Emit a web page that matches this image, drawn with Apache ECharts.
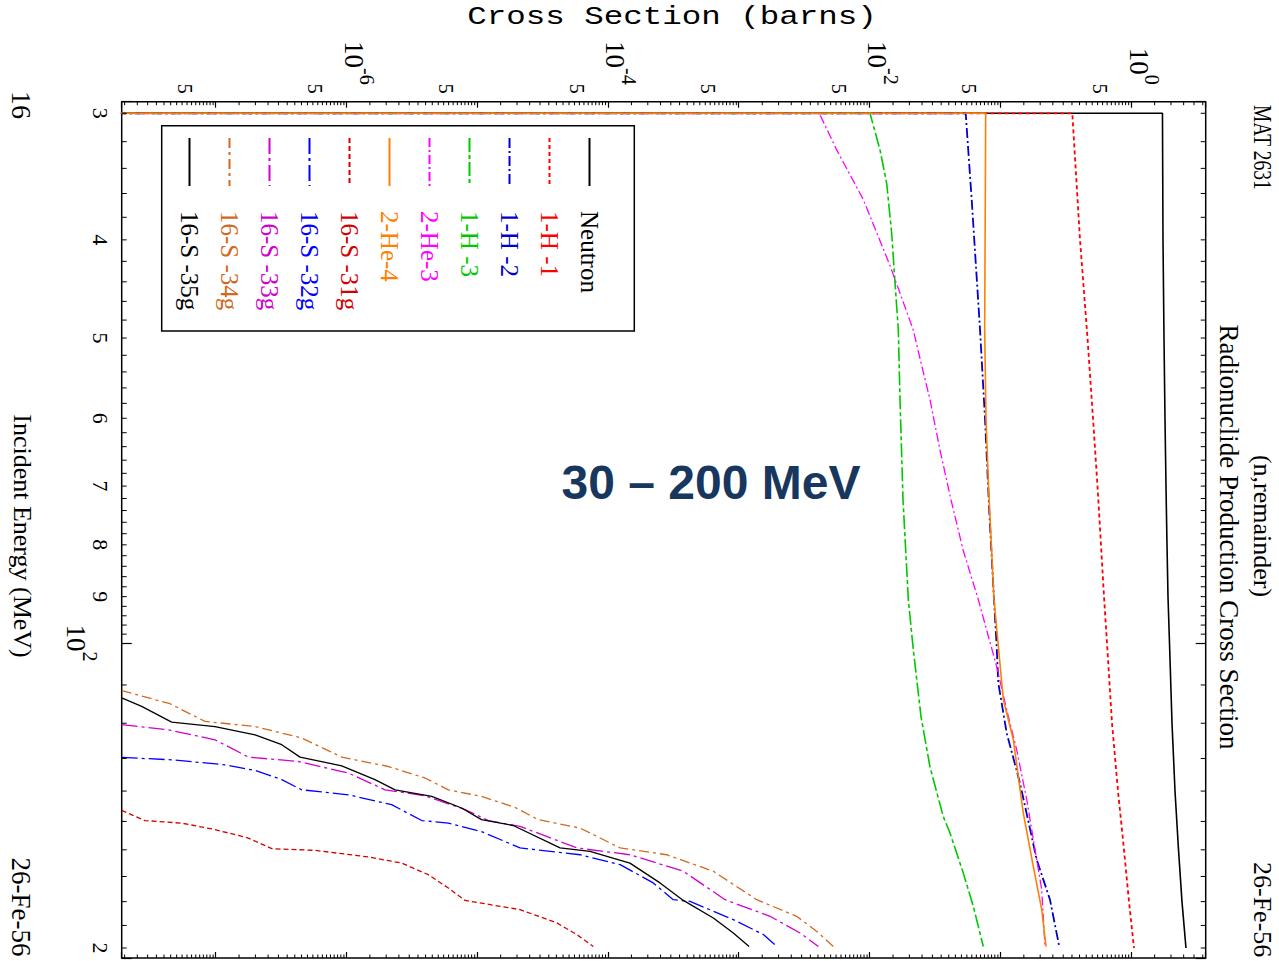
<!DOCTYPE html>
<html>
<head>
<meta charset="utf-8">
<title>Radionuclide Production Cross Section (n,remainder)</title>
<script src="https://cdn.jsdelivr.net/npm/echarts@6/dist/echarts.min.js"></script>
<style>
  html, body { margin: 0; padding: 0; background: #ffffff; }
  body { width: 1279px; height: 961px; overflow: hidden; position: relative; }
  /* The plot is laid out with energy along x and cross section along y,
     then turned a quarter turn clockwise as a whole sheet. */
  #sheet { position: absolute; left: 0; top: 0; width: 961px; height: 1279px;
           transform-origin: 0 0; transform: translate(1279px, 0) rotate(90deg); }
  #chart { width: 961px; height: 1279px; }
</style>
</head>
<body>
<div id="sheet"><div id="chart"></div></div>
<script>
// ---- axis ranges ----
const ENERGY_MIN = 29.22, ENERGY_MAX = 204.6;      // MeV
const SIGMA_MIN = 1.9e-8, SIGMA_MAX = 3.686;       // barns
const SWITCH_ON_FLOOR = 1e-9;                      // below the plotted range: curves switch on at 30 MeV

// ---- production cross sections, [energy (MeV), cross section (b)] ----
const neutron = [[30,1.722],[40,1.738],[50,1.769],[60,1.800],[70,1.832],[80,1.865],[90,1.898],[100,1.949],[120,2.037],[140,2.147],[160,2.284],[180,2.428],[200,2.605]];
const h1 = [[30,0.3521],[40,0.4033],[50,0.4601],[60,0.5069],[70,0.5486],[80,0.5834],[90,0.6152],[100,0.6484],[120,0.7084],[140,0.7870],[160,0.8747],[180,0.9552],[200,1.043]];
const h2 = [[30,0.05391],[36.5,0.05990],[49,0.06934],[60,0.07569],[75,0.0820],[90.6,0.08872],[100,0.0927],[109.5,0.09570],[122.7,0.1109],[137.5,0.1402],[163.6,0.1881],[179.2,0.2377],[199.4,0.2800]];
const h3 = [[30,0.0100],[32.6,0.01192],[35.2,0.01342],[39.4,0.01465],[44.1,0.01553],[49.1,0.01646],[57.5,0.01696],[72.2,0.01788],[90.6,0.01963],[101.5,0.02143],[118.2,0.02454],[132.5,0.02874],[148.4,0.03634],[154.0,0.04088],[168.7,0.05168],[181.9,0.06163],[199.3,0.07346]];
const he3 = [[30,0.004096],[32.6,0.005563],[36.5,0.008888],[42.4,0.01422],[49.1,0.02143],[51.4,0.02328],[57.5,0.02874],[64.5,0.03428],[72.2,0.04161],[80.9,0.05140],[90.6,0.06730],[105.5,0.09302],[116.4,0.1109],[127.5,0.1323],[142.7,0.1578],[159.9,0.1826],[175.2,0.2055],[199.4,0.2178]];
const he4 = [[30,0.07664],[49,0.07529],[60,0.07705],[70,0.08054],[90.6,0.08872],[113.7,0.1045],[124.5,0.1246],[147.2,0.1486],[166.1,0.1772],[183.3,0.2055],[199.4,0.2217]];
const s31 = [[146.3,1.90e-8],[149.7,2.86e-8],[150.6,5.47e-8],[152.8,9.82e-8],[155.8,1.77e-7],[159.6,2.67e-7],[160.2,5.71e-7],[162.6,1.46e-6],[164.9,2.63e-6],[169.3,4.20e-6],[174.5,5.97e-6],[179.5,8.01e-6],[183.3,2.11e-5],[188.9,4.03e-5],[194.0,5.73e-5],[199.3,7.67e-5]];
const s32 = [[129.7,1.90e-8],[130.4,4.58e-8],[131.9,1.17e-7],[133.6,1.99e-7],[136.4,3.18e-7],[139.6,4.52e-7],[141.2,1.03e-6],[144.4,2.20e-6],[149.7,3.74e-6],[150.6,5.97e-6],[153.5,1.07e-5],[159.3,2.11e-5],[161.8,6.07e-5],[165.5,1.23e-4],[172.5,2.20e-4],[179.2,3.13e-4],[179.9,4.21e-4],[187.5,9.01e-4],[194.0,1.53e-3],[199.3,1.94e-3]];
const s33 = [[120.4,1.90e-8],[121.8,4.32e-8],[124.6,9.82e-8],[129.6,1.77e-7],[130.9,4.26e-7],[134.4,1.03e-6],[139.6,1.96e-6],[141.5,3.96e-6],[146.0,8.01e-6],[149.7,1.21e-5],[151.7,2.11e-5],[159.3,5.73e-5],[161.8,1.46e-4],[168.0,3.74e-4],[179.2,7.79e-4],[186.1,1.72e-3],[193.3,2.92e-3],[199.3,4.03e-3]];
const s34 = [[111.4,1.90e-8],[114.8,4.45e-8],[119.5,8.24e-8],[120.9,1.99e-7],[124.1,4.52e-7],[129.6,9.14e-7],[132.4,2.08e-6],[135.9,3.96e-6],[139.6,5.97e-6],[141.7,1.07e-5],[145.3,1.93e-5],[149.4,2.91e-5],[152.3,6.07e-5],[159.3,1.23e-4],[161.8,2.79e-4],[168.0,6.34e-4],[179.2,1.36e-3],[186.1,2.75e-3],[192.6,3.92e-3],[199.3,5.24e-3]];
const s35 = [[113.3,1.90e-8],[115.5,2.70e-8],[119.7,4.58e-8],[120.9,9.82e-8],[123.2,1.99e-7],[126.0,3.18e-7],[129.6,4.39e-7],[132.2,9.14e-7],[136.4,1.64e-6],[139.6,2.34e-6],[141.7,4.46e-6],[145.5,7.55e-6],[149.4,1.07e-5],[151.4,1.87e-5],[159.3,4.27e-5],[160.6,7.23e-5],[164.9,1.46e-4],[172.5,2.48e-4],[179.5,3.74e-4],[186.8,6.34e-4],[193.3,9.01e-4],[199.3,1.19e-3]];

// ---- legend names, in legend order ----
const productNames = ['Neutron', '1-H -1', '1-H -2', '1-H -3', '2-He-3', '2-He-4',
                      '16-S -31g', '16-S -32g', '16-S -33g', '16-S -34g', '16-S -35g'];
const productData = [neutron, h1, h2, h3, he3, he4, s31, s32, s33, s34, s35];
const switchesOnAt30 = [true, true, true, true, true, true, false, false, false, false, false];

// ---- line styles ----
const lineColors = ['#000000', '#ff0000', '#0000cc', '#00c800', '#ff00ff', '#ff8000',
                    '#d40000', '#0000ff', '#d000d0', '#d2691e', '#000000'];
const lineDashes = ['solid', [4, 3], [10, 3, 2, 3], [14, 3, 4, 3], [9, 3, 2, 3], 'solid',
                    [5, 3], [16, 4, 3, 4], [16, 4, 3, 4], [10, 4, 3, 4], 'solid'];
const lineWidths = [1.6, 1.8, 1.8, 1.6, 1.3, 1.6, 1.3, 1.3, 1.3, 1.3, 1.3];

// ---- tick marks and tick labels ----
const sigmaLabelExponents = [-6, -4, -2, 0];               // decades carrying a 10^n label
const sigmaDecades = [-8, -7, -6, -5, -4, -3, -2, -1, 0];
const sigmaMantissas = [1.5, 2, 2.5, 3, 3.5, 4, 4.5, 5, 5.5, 6, 6.5, 7, 7.5, 8, 8.5, 9, 9.5];
const sigmaTickLabels = [[5e-8, '5'], [5e-7, '5'], [5e-6, '5'], [5e-5, '5'],
                         [5e-4, '5'], [5e-3, '5'], [5e-2, '5'], [5e-1, '5']];
const energyLabelExponents = [2];
const energyMinorTicks = [30, 32, 34, 36, 38, 40, 42, 44, 46, 48, 50, 52, 54, 56, 58, 60,
                          62, 64, 66, 68, 70, 72, 74, 76, 78, 80, 82, 84, 86, 88, 90,
                          92, 94, 96, 98, 110, 120, 130, 140, 150, 160, 170, 180, 190, 200];
const energyTickLabels = [[30, '3'], [40, '4'], [50, '5'], [60, '6'], [70, '7'],
                          [80, '8'], [90, '9'], [200, '2']];

const SERIF = "'Liberation Serif', 'Times New Roman', serif";
const MONO = "'Liberation Mono', 'Courier New', monospace";
const SANS = "'Liberation Sans', Arial, sans-serif";

const sigmaMinorTicks = [];
sigmaDecades.forEach(d => sigmaMantissas.forEach(m => {
  const v = m * Math.pow(10, d);
  if (v > SIGMA_MIN && v < SIGMA_MAX) sigmaMinorTicks.push(v);
}));

function decadeFormatter(allowed) {
  return function (v) {
    const e = Math.log10(v), r = Math.round(e);
    if (Math.abs(e - r) > 1e-6 || allowed.indexOf(r) < 0) return '';
    return '{b|10}{s|' + r + '}';
  };
}
const decadeRich = {
  b: { fontFamily: SERIF, fontSize: 27, color: '#000', padding: [10, 0, 0, 0] },
  s: { fontFamily: SERIF, fontSize: 20, color: '#000', verticalAlign: 'top' }
};

const lineSeries = productNames.map((name, i) => {
  const pts = productData[i];
  const data = switchesOnAt30[i] ? [[pts[0][0], SWITCH_ON_FLOOR]].concat(pts) : pts;
  return {
    type: 'line', name: name, data: data,
    symbol: 'none', showSymbol: false, clip: true, silent: true, z: 3,
    lineStyle: { color: lineColors[i], width: lineWidths[i], type: lineDashes[i] },
    itemStyle: { color: lineColors[i] },
    emphasis: { disabled: true }
  };
});

const tickStroke = { stroke: '#000', lineWidth: 1 };

const decorSeries = [
  { // minor ticks on the cross-section axis and its mirror
    type: 'custom', name: 'sigma-ticks', silent: true, clip: false, z: 4,
    data: sigmaMinorTicks.map(v => [ENERGY_MIN, v]),
    renderItem: (params, api) => {
      const v = api.value(1);
      const a = api.coord([ENERGY_MIN, v]), b = api.coord([ENERGY_MAX, v]);
      return { type: 'group', children: [
        { type: 'line', shape: { x1: a[0], y1: a[1], x2: a[0] + 3.5, y2: a[1] }, style: tickStroke },
        { type: 'line', shape: { x1: b[0], y1: b[1], x2: b[0] - 3.5, y2: b[1] }, style: tickStroke }
      ] };
    }
  },
  { // minor ticks on the energy axis and its mirror
    type: 'custom', name: 'energy-ticks', silent: true, clip: false, z: 4,
    data: energyMinorTicks.map(e => [e, SIGMA_MIN]),
    renderItem: (params, api) => {
      const e = api.value(0);
      const a = api.coord([e, SIGMA_MIN]), b = api.coord([e, SIGMA_MAX]);
      return { type: 'group', children: [
        { type: 'line', shape: { x1: a[0], y1: a[1], x2: a[0], y2: a[1] - 5 }, style: tickStroke },
        { type: 'line', shape: { x1: b[0], y1: b[1], x2: b[0], y2: b[1] + 5 }, style: tickStroke }
      ] };
    }
  },
  { // "5" labels between the decades
    type: 'custom', name: 'sigma-labels', silent: true, clip: false, z: 4,
    data: sigmaTickLabels.map(t => [ENERGY_MIN, t[0]]),
    renderItem: (params, api) => {
      const a = api.coord([ENERGY_MIN, api.value(1)]);
      return { type: 'text', x: a[0] - 13, y: a[1] - 8,
        style: { text: sigmaTickLabels[params.dataIndex][1], fill: '#000',
                 fontFamily: SERIF, fontSize: 20, align: 'center', verticalAlign: 'middle' } };
    }
  },
  { // energy mantissa labels
    type: 'custom', name: 'energy-labels', silent: true, clip: false, z: 4,
    data: energyTickLabels.map(t => [t[0], SIGMA_MIN]),
    renderItem: (params, api) => {
      const a = api.coord([api.value(0), SIGMA_MIN]);
      return { type: 'text', x: a[0], y: a[1] + 21,
        style: { text: energyTickLabels[params.dataIndex][1], fill: '#000',
                 fontFamily: SERIF, fontSize: 22, align: 'center', verticalAlign: 'middle' } };
    }
  }
];

const chart = echarts.init(document.getElementById('chart'), null,
                           { renderer: 'svg', width: 961, height: 1279 });

chart.setOption({
  animation: false,
  backgroundColor: '#ffffff',
  grid: { left: 101.7, right: 3, top: 73.3, bottom: 121.7, show: true,
          borderColor: '#000', borderWidth: 1.5, backgroundColor: 'transparent',
          outerBoundsMode: 'none', containLabel: false },
  xAxis: [
    { type: 'log', min: ENERGY_MIN, max: ENERGY_MAX, position: 'bottom', splitNumber: 5,
      axisLine: { show: false }, splitLine: { show: false },
      axisTick: { show: true, inside: true, length: 10, lineStyle: { color: '#000', width: 1.2 } },
      axisLabel: { show: true, margin: 22, formatter: decadeFormatter(energyLabelExponents), rich: decadeRich } },
    { type: 'log', min: ENERGY_MIN, max: ENERGY_MAX, position: 'top', splitNumber: 5,
      axisLine: { show: false }, splitLine: { show: false }, axisLabel: { show: false },
      axisTick: { show: true, inside: true, length: 10, lineStyle: { color: '#000', width: 1.2 } } }
  ],
  yAxis: [
    { type: 'log', min: SIGMA_MIN, max: SIGMA_MAX, position: 'left', splitNumber: 10,
      axisLine: { show: false }, splitLine: { show: false },
      axisTick: { show: true, inside: true, length: 6, lineStyle: { color: '#000', width: 1.2 } },
      axisLabel: { show: true, margin: 17, padding: [0, 0, 24, 0],
                   formatter: decadeFormatter(sigmaLabelExponents), rich: decadeRich } },
    { type: 'log', min: SIGMA_MIN, max: SIGMA_MAX, position: 'right', splitNumber: 10,
      axisLine: { show: false }, splitLine: { show: false }, axisLabel: { show: false },
      axisTick: { show: true, inside: true, length: 6, lineStyle: { color: '#000', width: 1.2 } } }
  ],
  legend: {
    orient: 'vertical', left: 137, top: 677, padding: 0,
    itemWidth: 48, itemHeight: 14, itemGap: 15, selectedMode: false,
    itemStyle: { opacity: 0 },
    textStyle: { fontFamily: SERIF, fontSize: 25, padding: [0, 0, 0, 20] },
    data: productNames.map((n, i) => ({ name: n, textStyle: { color: lineColors[i] } }))
  },
  graphic: [
    { type: 'rect', silent: true, z: 10,
      shape: { x: 125.7, y: 644.7, width: 205.3, height: 472.6 },
      style: { fill: 'none', stroke: '#000', lineWidth: 1.5 } },
    { type: 'text', x: 17, y: 607, rotation: Math.PI / 2, scaleX: 1.25, z: 10,
      style: { text: 'Cross Section (barns)', fill: '#000', fontFamily: MONO, fontSize: 26,
               align: 'center', verticalAlign: 'middle' } },
    { type: 'text', x: 482, y: 568, rotation: Math.PI / 2, z: 10,
      style: { text: '30 \u2013 200 MeV', fill: '#17375e', fontFamily: SANS, fontWeight: 'bold',
               fontSize: 48, align: 'center', verticalAlign: 'middle' } },
    { type: 'text', x: 537, y: 50, z: 10,
      style: { text: 'Radionuclide Production Cross Section', fill: '#000', fontFamily: SERIF,
               fontSize: 27, align: 'center', verticalAlign: 'middle' } },
    { type: 'text', x: 526, y: 17, z: 10,
      style: { text: '(n,remainder)', fill: '#000', fontFamily: SERIF, fontSize: 26,
               align: 'center', verticalAlign: 'middle' } },
    { type: 'text', x: 105, y: 17, scaleX: 0.75, z: 10,
      style: { text: 'MAT 2631', fill: '#000', fontFamily: SERIF, fontSize: 26,
               align: 'left', verticalAlign: 'middle' } },
    { type: 'text', x: 862, y: 17, z: 10,
      style: { text: '26-Fe-56', fill: '#000', fontFamily: SERIF, fontSize: 26,
               align: 'left', verticalAlign: 'middle' } },
    { type: 'text', x: 105, y: 1258, z: 10,
      style: { text: '16', fill: '#000', fontFamily: SERIF, fontSize: 28,
               align: 'center', verticalAlign: 'middle' } },
    { type: 'text', x: 536, y: 1257, z: 10,
      style: { text: 'Incident Energy (MeV)', fill: '#000', fontFamily: SERIF, fontSize: 26,
               align: 'center', verticalAlign: 'middle' } },
    { type: 'text', x: 907, y: 1258, z: 10,
      style: { text: '26-Fe-56', fill: '#000', fontFamily: SERIF, fontSize: 27,
               align: 'center', verticalAlign: 'middle' } }
  ],
  series: lineSeries.concat(decorSeries)
});
</script>
</body>
</html>
